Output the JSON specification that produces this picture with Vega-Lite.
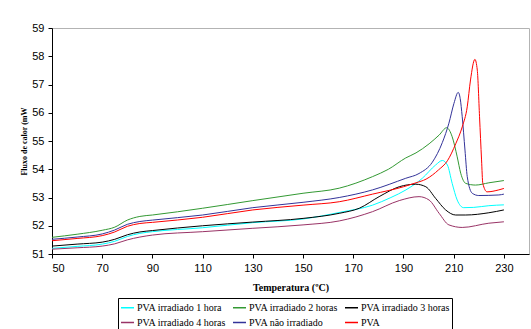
{
  "$schema": "https://vega.github.io/schema/vega-lite/v6.json",
  "width": 477,
  "height": 226,
  "autosize": {"type": "none"},
  "padding": {"top": 28, "left": 52, "right": 2, "bottom": 75},
  "background": "white",
  "config": {
    "view": {"stroke": "#b3b3b3", "strokeWidth": 1},
    "axis": {"grid": false, "domainColor": "black", "tickColor": "black", "labelColor": "black", "titleColor": "black", "labelFont": "Liberation Sans", "labelFontSize": 11, "tickSize": 4, "labelPadding": 4}
  },
  "datasets": {
    "curves": [
      {"s": "PVA irradiado 1 hora", "T": 50, "v": 51.2}, {"s": "PVA irradiado 1 hora", "T": 60, "v": 51.27}, {"s": "PVA irradiado 1 hora", "T": 70, "v": 51.35}, {"s": "PVA irradiado 1 hora", "T": 75, "v": 51.45}, {"s": "PVA irradiado 1 hora", "T": 80, "v": 51.62}, {"s": "PVA irradiado 1 hora", "T": 85, "v": 51.73}, {"s": "PVA irradiado 1 hora", "T": 90, "v": 51.79}, {"s": "PVA irradiado 1 hora", "T": 110, "v": 51.93}, {"s": "PVA irradiado 1 hora", "T": 130, "v": 52.11}, {"s": "PVA irradiado 1 hora", "T": 150, "v": 52.24}, {"s": "PVA irradiado 1 hora", "T": 165, "v": 52.48}, {"s": "PVA irradiado 1 hora", "T": 177.7, "v": 52.73}, {"s": "PVA irradiado 1 hora", "T": 185, "v": 53.0}, {"s": "PVA irradiado 1 hora", "T": 191, "v": 53.27}, {"s": "PVA irradiado 1 hora", "T": 197.5, "v": 53.68}, {"s": "PVA irradiado 1 hora", "T": 202.8, "v": 54.15}, {"s": "PVA irradiado 1 hora", "T": 205.5, "v": 54.31}, {"s": "PVA irradiado 1 hora", "T": 207.5, "v": 54.15}, {"s": "PVA irradiado 1 hora", "T": 209.4, "v": 53.5}, {"s": "PVA irradiado 1 hora", "T": 211.4, "v": 52.91}, {"s": "PVA irradiado 1 hora", "T": 214, "v": 52.64}, {"s": "PVA irradiado 1 hora", "T": 218, "v": 52.65}, {"s": "PVA irradiado 1 hora", "T": 224, "v": 52.71}, {"s": "PVA irradiado 1 hora", "T": 230, "v": 52.74},

      {"s": "PVA irradiado 2 horas", "T": 50, "v": 51.59}, {"s": "PVA irradiado 2 horas", "T": 60, "v": 51.7}, {"s": "PVA irradiado 2 horas", "T": 70, "v": 51.84}, {"s": "PVA irradiado 2 horas", "T": 75, "v": 51.95}, {"s": "PVA irradiado 2 horas", "T": 80, "v": 52.2}, {"s": "PVA irradiado 2 horas", "T": 85, "v": 52.33}, {"s": "PVA irradiado 2 horas", "T": 90, "v": 52.38}, {"s": "PVA irradiado 2 horas", "T": 110, "v": 52.62}, {"s": "PVA irradiado 2 horas", "T": 130, "v": 52.89}, {"s": "PVA irradiado 2 horas", "T": 150, "v": 53.15}, {"s": "PVA irradiado 2 horas", "T": 164.4, "v": 53.33}, {"s": "PVA irradiado 2 horas", "T": 177.7, "v": 53.74}, {"s": "PVA irradiado 2 horas", "T": 184, "v": 54.0}, {"s": "PVA irradiado 2 horas", "T": 190.9, "v": 54.4}, {"s": "PVA irradiado 2 horas", "T": 195, "v": 54.58}, {"s": "PVA irradiado 2 horas", "T": 200.2, "v": 54.9}, {"s": "PVA irradiado 2 horas", "T": 204.2, "v": 55.21}, {"s": "PVA irradiado 2 horas", "T": 207.2, "v": 55.47}, {"s": "PVA irradiado 2 horas", "T": 209.4, "v": 55.15}, {"s": "PVA irradiado 2 horas", "T": 211.4, "v": 54.44}, {"s": "PVA irradiado 2 horas", "T": 212.8, "v": 53.86}, {"s": "PVA irradiado 2 horas", "T": 214.8, "v": 53.5}, {"s": "PVA irradiado 2 horas", "T": 218.7, "v": 53.44}, {"s": "PVA irradiado 2 horas", "T": 224, "v": 53.52}, {"s": "PVA irradiado 2 horas", "T": 230, "v": 53.6},

      {"s": "PVA irradiado 3 horas", "T": 50, "v": 51.28}, {"s": "PVA irradiado 3 horas", "T": 60, "v": 51.35}, {"s": "PVA irradiado 3 horas", "T": 70, "v": 51.42}, {"s": "PVA irradiado 3 horas", "T": 75, "v": 51.52}, {"s": "PVA irradiado 3 horas", "T": 80, "v": 51.68}, {"s": "PVA irradiado 3 horas", "T": 85, "v": 51.78}, {"s": "PVA irradiado 3 horas", "T": 90, "v": 51.83}, {"s": "PVA irradiado 3 horas", "T": 110, "v": 52.0}, {"s": "PVA irradiado 3 horas", "T": 130, "v": 52.13}, {"s": "PVA irradiado 3 horas", "T": 150, "v": 52.26}, {"s": "PVA irradiado 3 horas", "T": 164.4, "v": 52.44}, {"s": "PVA irradiado 3 horas", "T": 172.4, "v": 52.62}, {"s": "PVA irradiado 3 horas", "T": 180.3, "v": 53.03}, {"s": "PVA irradiado 3 horas", "T": 188.3, "v": 53.38}, {"s": "PVA irradiado 3 horas", "T": 194.9, "v": 53.47}, {"s": "PVA irradiado 3 horas", "T": 198.9, "v": 53.38}, {"s": "PVA irradiado 3 horas", "T": 202.8, "v": 52.97}, {"s": "PVA irradiado 3 horas", "T": 206.8, "v": 52.56}, {"s": "PVA irradiado 3 horas", "T": 210.8, "v": 52.38}, {"s": "PVA irradiado 3 horas", "T": 214.8, "v": 52.38}, {"s": "PVA irradiado 3 horas", "T": 224, "v": 52.46}, {"s": "PVA irradiado 3 horas", "T": 230, "v": 52.56},

      {"s": "PVA irradiado 4 horas", "T": 50, "v": 51.17}, {"s": "PVA irradiado 4 horas", "T": 60, "v": 51.22}, {"s": "PVA irradiado 4 horas", "T": 70, "v": 51.28}, {"s": "PVA irradiado 4 horas", "T": 75, "v": 51.36}, {"s": "PVA irradiado 4 horas", "T": 80, "v": 51.5}, {"s": "PVA irradiado 4 horas", "T": 85, "v": 51.6}, {"s": "PVA irradiado 4 horas", "T": 90, "v": 51.67}, {"s": "PVA irradiado 4 horas", "T": 110, "v": 51.79}, {"s": "PVA irradiado 4 horas", "T": 130, "v": 51.91}, {"s": "PVA irradiado 4 horas", "T": 150, "v": 52.03}, {"s": "PVA irradiado 4 horas", "T": 164.4, "v": 52.17}, {"s": "PVA irradiado 4 horas", "T": 177.7, "v": 52.5}, {"s": "PVA irradiado 4 horas", "T": 188.3, "v": 52.89}, {"s": "PVA irradiado 4 horas", "T": 196.2, "v": 53.03}, {"s": "PVA irradiado 4 horas", "T": 200.2, "v": 52.91}, {"s": "PVA irradiado 4 horas", "T": 204.2, "v": 52.44}, {"s": "PVA irradiado 4 horas", "T": 208.1, "v": 52.03}, {"s": "PVA irradiado 4 horas", "T": 213.4, "v": 51.94}, {"s": "PVA irradiado 4 horas", "T": 224, "v": 52.09}, {"s": "PVA irradiado 4 horas", "T": 230, "v": 52.14},

      {"s": "PVA não irradiado", "T": 50, "v": 51.52}, {"s": "PVA não irradiado", "T": 60, "v": 51.6}, {"s": "PVA não irradiado", "T": 70, "v": 51.71}, {"s": "PVA não irradiado", "T": 75, "v": 51.85}, {"s": "PVA não irradiado", "T": 80, "v": 52.05}, {"s": "PVA não irradiado", "T": 85, "v": 52.15}, {"s": "PVA não irradiado", "T": 90, "v": 52.2}, {"s": "PVA não irradiado", "T": 110, "v": 52.38}, {"s": "PVA não irradiado", "T": 130, "v": 52.64}, {"s": "PVA não irradiado", "T": 150, "v": 52.83}, {"s": "PVA não irradiado", "T": 164.4, "v": 53.0}, {"s": "PVA não irradiado", "T": 177.7, "v": 53.27}, {"s": "PVA não irradiado", "T": 190.9, "v": 53.68}, {"s": "PVA não irradiado", "T": 196.2, "v": 53.85}, {"s": "PVA não irradiado", "T": 201.5, "v": 54.25}, {"s": "PVA não irradiado", "T": 205.5, "v": 54.95}, {"s": "PVA não irradiado", "T": 208.1, "v": 55.63}, {"s": "PVA não irradiado", "T": 210.1, "v": 56.33}, {"s": "PVA não irradiado", "T": 211.8, "v": 56.72}, {"s": "PVA não irradiado", "T": 212.6, "v": 56.5}, {"s": "PVA não irradiado", "T": 213.4, "v": 55.86}, {"s": "PVA não irradiado", "T": 214.5, "v": 54.68}, {"s": "PVA não irradiado", "T": 215.4, "v": 53.74}, {"s": "PVA não irradiado", "T": 217.4, "v": 53.15}, {"s": "PVA não irradiado", "T": 220, "v": 53.07}, {"s": "PVA não irradiado", "T": 228, "v": 53.09}, {"s": "PVA não irradiado", "T": 230, "v": 53.12},

      {"s": "PVA", "T": 50, "v": 51.47}, {"s": "PVA", "T": 60, "v": 51.55}, {"s": "PVA", "T": 70, "v": 51.65}, {"s": "PVA", "T": 75, "v": 51.78}, {"s": "PVA", "T": 80, "v": 51.98}, {"s": "PVA", "T": 85, "v": 52.08}, {"s": "PVA", "T": 90, "v": 52.12}, {"s": "PVA", "T": 110, "v": 52.3}, {"s": "PVA", "T": 130, "v": 52.56}, {"s": "PVA", "T": 150, "v": 52.73}, {"s": "PVA", "T": 164.4, "v": 52.85}, {"s": "PVA", "T": 177.7, "v": 53.12}, {"s": "PVA", "T": 190, "v": 53.38}, {"s": "PVA", "T": 195, "v": 53.52}, {"s": "PVA", "T": 199, "v": 53.65}, {"s": "PVA", "T": 204, "v": 53.98}, {"s": "PVA", "T": 207.5, "v": 54.3}, {"s": "PVA", "T": 210.8, "v": 54.9}, {"s": "PVA", "T": 213.4, "v": 55.5}, {"s": "PVA", "T": 215.4, "v": 56.21}, {"s": "PVA", "T": 216.7, "v": 57.16}, {"s": "PVA", "T": 218.45, "v": 57.89}, {"s": "PVA", "T": 219.4, "v": 57.51}, {"s": "PVA", "T": 220.3, "v": 55.86}, {"s": "PVA", "T": 221.1, "v": 54.33}, {"s": "PVA", "T": 221.6, "v": 53.5}, {"s": "PVA", "T": 223.3, "v": 53.2}, {"s": "PVA", "T": 228, "v": 53.27}, {"s": "PVA", "T": 230, "v": 53.32}
    ]
  },
  "data": {"name": "curves"},
  "mark": {"type": "line", "strokeWidth": 1, "interpolate": "monotone", "clip": true},
  "encoding": {
    "x": {
      "field": "T", "type": "quantitative",
      "scale": {"domain": [50, 240], "nice": false, "zero": false},
      "axis": {
        "values": [50, 70, 90, 110, 130, 150, 170, 190, 210, 230],
        "title": "Temperatura (ºC)",
        "titleFont": "Liberation Serif", "titleFontSize": 10, "titleFontWeight": "bold",
        "titleY": 33, "titleBaseline": "middle"
      }
    },
    "y": {
      "field": "v", "type": "quantitative",
      "scale": {"domain": [51, 59], "nice": false, "zero": false},
      "axis": {
        "values": [51, 52, 53, 54, 55, 56, 57, 58, 59],
        "title": "Fluxo de calor (mW",
        "titleFont": "Liberation Serif", "titleFontSize": 8, "titleFontWeight": "bold",
        "titleX": -28, "titleY": 113, "titleAngle": -90, "titleAlign": "center", "titleBaseline": "middle"
      }
    },
    "color": {
      "field": "s", "type": "nominal",
      "scale": {
        "domain": ["PVA irradiado 1 hora", "PVA irradiado 2 horas", "PVA irradiado 3 horas", "PVA irradiado 4 horas", "PVA não irradiado", "PVA"],
        "range": ["#00FFFF", "#339933", "#000000", "#993366", "#333399", "#FF0000"]
      },
      "legend": {
        "title": null,
        "orient": "none", "legendX": 66, "legendY": 270,
        "columns": 3, "direction": "horizontal",
        "strokeColor": "black", "padding": 2,
        "symbolType": "stroke", "symbolSize": 169, "symbolStrokeWidth": 1.5,
        "labelFont": "Liberation Serif", "labelFontSize": 10, "labelColor": "black",
        "labelOffset": 2, "columnPadding": 4, "rowPadding": 2
      }
    }
  }
}
